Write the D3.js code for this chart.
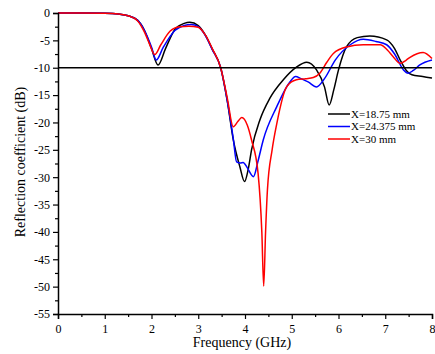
<!DOCTYPE html>
<html>
<head>
<meta charset="utf-8">
<script src="https://cdn.jsdelivr.net/npm/d3@7"></script>
<style>
  body { margin: 0; background: #fff; }
  text { font-family: "Liberation Serif", "Times New Roman", serif; fill: #000; }
</style>
</head>
<body>
<div id="chart"></div>
<script>
// black: X=18.75 mm
const freqA = [0, 0.5, 1.0, 1.3, 1.5, 1.7, 1.85, 2.0, 2.14, 2.3, 2.5, 2.7, 2.82, 3.0, 3.15, 3.3, 3.48, 3.62, 3.75, 3.89, 3.99, 4.07, 4.14, 4.32, 4.53, 4.82, 5.1, 5.32, 5.53, 5.7, 5.8, 5.9, 6.0, 6.17, 6.4, 6.67, 7.03, 7.2, 7.32, 7.45, 7.57, 7.8, 8.0];
const s11A = [0, 0, -0.05, -0.2, -0.5, -1.3, -3.2, -6.5, -9.5, -6.5, -3.0, -1.9, -1.7, -2.3, -4.0, -6.6, -10, -16, -23.2, -28.1, -30.8, -28.5, -25, -19.5, -15.6, -12.2, -9.9, -9.0, -10.4, -13.5, -16.8, -14, -10.4, -6.2, -4.5, -4.2, -4.9, -6.5, -8.6, -10.5, -11.3, -11.6, -11.9];

// blue: X=24.375 mm
const freqB = [0, 0.5, 1.0, 1.3, 1.5, 1.7, 1.85, 2.0, 2.1, 2.25, 2.5, 2.7, 2.85, 3.0, 3.15, 3.3, 3.48, 3.62, 3.75, 3.82, 3.9, 3.96, 4.05, 4.18, 4.28, 4.39, 4.68, 4.96, 5.08, 5.2, 5.35, 5.53, 5.7, 5.93, 6.25, 6.53, 6.8, 7.03, 7.2, 7.39, 7.49, 7.6, 7.74, 8.0];
const s11B = [0, 0, -0.05, -0.2, -0.5, -1.3, -3.2, -6.2, -8.6, -6.3, -3.2, -2.3, -2.1, -2.5, -4.1, -6.7, -10, -16, -23, -27.2, -27.4, -27.3, -28.3, -29.9, -27, -23.2, -17.1, -12.6, -11.6, -12.0, -12.6, -13.5, -12, -8.6, -5.8, -4.8, -5.2, -5.8, -7.5, -10.4, -11, -10.5, -9.5, -8.6];

// red: X=30 mm
const freqC = [0, 0.5, 1.0, 1.3, 1.5, 1.7, 1.85, 1.95, 2.07, 2.2, 2.4, 2.6, 2.8, 3.0, 3.15, 3.3, 3.48, 3.62, 3.75, 3.85, 3.93, 4.05, 4.14, 4.28, 4.36, 4.4, 4.44, 4.48, 4.58, 4.68, 4.89, 5.1, 5.3, 5.46, 5.6, 5.75, 5.89, 6.17, 6.53, 6.89, 7.05, 7.17, 7.32, 7.45, 7.53, 7.81, 8.0];
const s11C = [0, 0, -0.05, -0.2, -0.5, -1.4, -3.5, -5.5, -7.6, -5.8, -3.3, -2.5, -2.4, -2.6, -4.0, -6.5, -10, -15.5, -20.8, -19.8, -19.1, -20.5, -23.2, -29.3, -40, -49.9, -40, -32.3, -25, -20.2, -13.5, -12.2, -12.0, -11.8, -11.0, -9.0, -7.4, -6.2, -5.8, -5.8, -6.8, -8.0, -9.2, -8.6, -8.1, -7.2, -8.3];

const seriesNames = ["X=18.75 mm", "X=24.375 mm", "X=30 mm"];
const seriesColors = ["#000000", "#0000ff", "#ff0000"];
const xTicks = [0, 1, 2, 3, 4, 5, 6, 7, 8];
const yTicks = [0, -5, -10, -15, -20, -25, -30, -35, -40, -45, -50, -55];
const refLevel = -10;

const series = [
  { name: seriesNames[0], color: seriesColors[0], f: freqA, v: s11A },
  { name: seriesNames[1], color: seriesColors[1], f: freqB, v: s11B },
  { name: seriesNames[2], color: seriesColors[2], f: freqC, v: s11C },
];

let margin = { top: 13, right: 3, bottom: 40, left: 58 };
let width = 435 - margin.left - margin.right;
let height = 354 - margin.top - margin.bottom;

let svg = d3
  .select("#chart")
  .append("svg")
  .attr("width", 435)
  .attr("height", 354)
  .append("g")
  .attr("transform", "translate(" + margin.left + "," + margin.top + ")");

let x = d3.scaleLinear().domain([0, 8]).range([0, 374]);
let y = d3.scaleLinear().domain([0, -55]).range([0, 301]);

// curvas
let line = d3
  .line()
  .x((d) => x(d[0]))
  .y((d) => y(d[1]))
  .curve(d3.curveMonotoneX);

series.forEach((s) => {
  svg
    .append("path")
    .datum(s.f.map((f, i) => [f, s.v[i]]))
    .attr("fill", "none")
    .attr("stroke", s.color)
    .attr("stroke-width", 1.5)
    .attr("d", line);
});

// linea -10 dB
svg
  .append("line")
  .attr("x1", x(0))
  .attr("x2", x(8))
  .attr("y1", y(refLevel))
  .attr("y2", y(refLevel))
  .attr("stroke", "#000")
  .attr("stroke-width", 1.5);

// eje x
let gx = svg
  .append("g")
  .attr("transform", "translate(0," + y(-55) + ")")
  .call(d3.axisBottom(x).tickValues(d3.range(0, 8.01, 0.5)).tickSize(5).tickFormat((d) => (xTicks.includes(d) ? d : "")));
gx.selectAll("text").attr("font-size", "12px").attr("dy", "0.95em").attr("font-family", "Liberation Serif");
gx.selectAll(".tick line").filter((d) => !xTicks.includes(d)).attr("y2", 3);

// eje y
let gy = svg
  .append("g")
  .call(d3.axisLeft(y).tickValues(d3.range(0, -55.01, -2.5)).tickSize(5).tickFormat((d) => (yTicks.includes(d) ? d : "")));
gy.selectAll("text").attr("font-size", "12px").attr("font-family", "Liberation Serif");
gy.selectAll(".tick line").filter((d) => !yTicks.includes(d)).attr("x2", -3);

[gx, gy].forEach((g) => {
  g.select(".domain").attr("stroke-width", 1.5);
  g.selectAll(".tick line").attr("stroke-width", 1.2);
});

// leyenda
let legend = svg.append("g").attr("transform", "translate(" + (328 - margin.left) + "," + (114 - margin.top) + ")");
series.forEach((s, i) => {
  legend
    .append("line")
    .attr("x1", 0)
    .attr("x2", 22)
    .attr("y1", i * 12.5)
    .attr("y2", i * 12.5)
    .attr("stroke", s.color)
    .attr("stroke-width", 1.5);
  legend
    .append("text")
    .attr("x", 23)
    .attr("y", i * 12.5)
    .attr("dy", "0.35em")
    .attr("font-size", "11px")
    .text(s.name);
});

// titulos de ejes
svg
  .append("text")
  .attr("x", x(4) - 3)
  .attr("y", 347 - margin.top)
  .attr("text-anchor", "middle")
  .attr("font-size", "14px")
  .text("Frequency (GHz)");

svg
  .append("text")
  .attr("transform", "translate(" + (25 - margin.left) + "," + (162 - margin.top) + ") rotate(-90)")
  .attr("text-anchor", "middle")
  .attr("font-size", "14px")
  .text("Reflection coefficient (dB)");
</script>
</body>
</html>
